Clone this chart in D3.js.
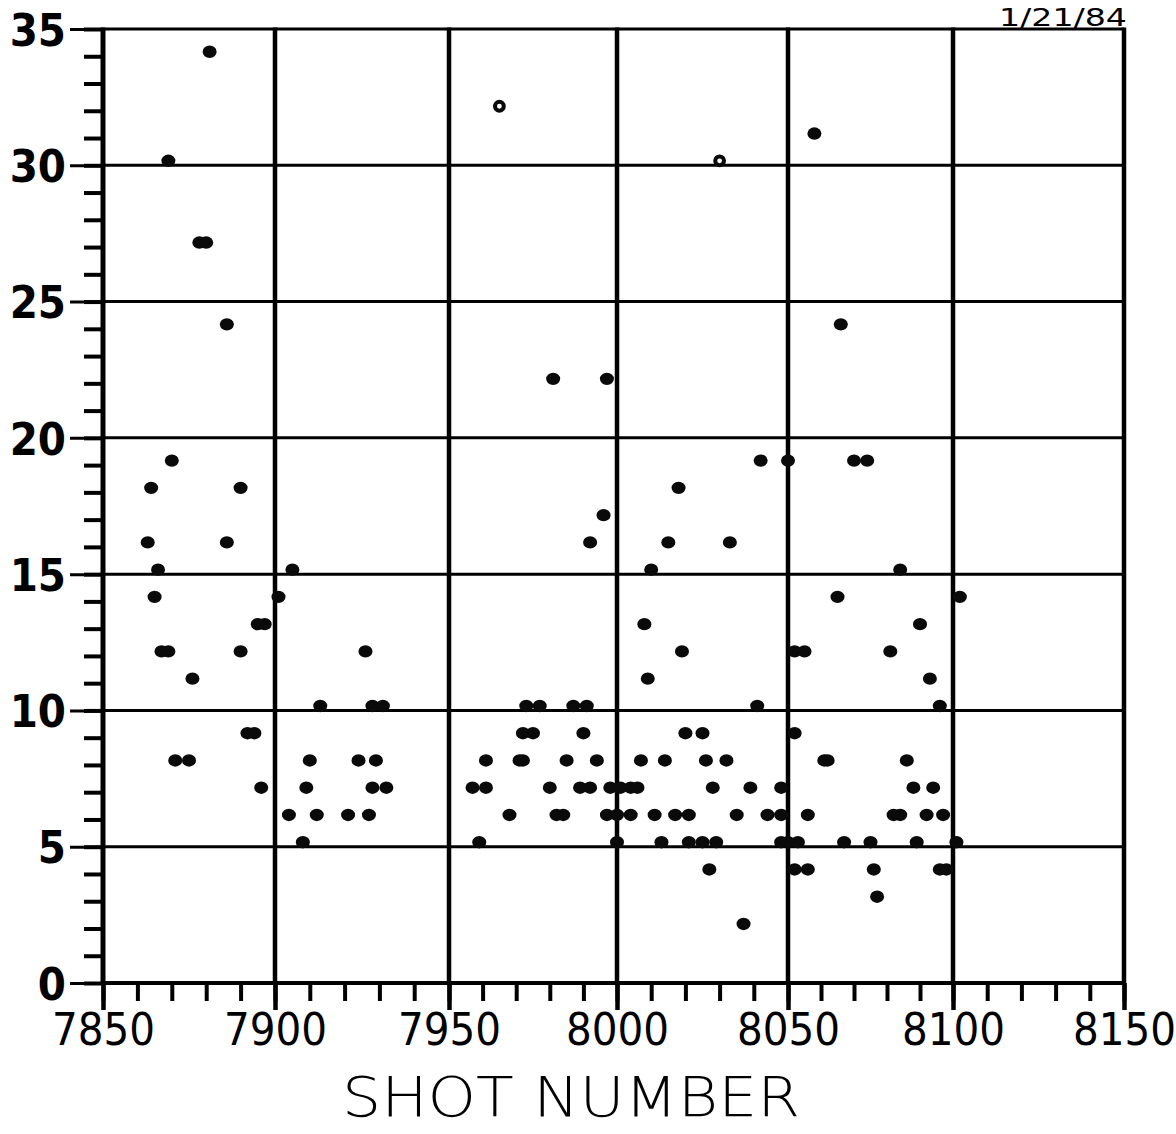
<!DOCTYPE html>
<html>
<head>
<meta charset="utf-8">
<script src="https://cdn.jsdelivr.net/npm/d3@7"></script>
<style>
  html, body { margin: 0; padding: 0; background: #ffffff; }
  svg { display: block; }
  .lettering { font-family: "DejaVu Sans Condensed", "DejaVu Sans", sans-serif; font-stretch: condensed; }
</style>
</head>
<body>
<svg id="chart" width="1176" height="1134"></svg>
<script>
// Axis tick labels
const xTickValues = [7850, 7900, 7950, 8000, 8050, 8100, 8150];
const yTickValues = [0, 5, 10, 15, 20, 25, 30, 35];

// Plotted readings, grouped by reading level (solid dots)
const readingLevels = [34, 31, 30, 27, 24, 22, 19, 18, 17, 16, 15, 14, 13, 12, 11, 10, 9, 8, 7, 6, 5, 4, 3, 2];
const shotsAtLevel = [
  [7881],
  [8058],
  [7869],
  [7878, 7880],
  [7886, 8066],
  [7981, 7997],
  [7870, 8042, 8050, 8070, 8074],
  [7864, 7890, 8018],
  [7996],
  [7863, 7886, 7992, 8015, 8033],
  [7866, 7905, 8010, 8084],
  [7865, 7901, 8065, 8102],
  [7895, 7897, 8008, 8090],
  [7867, 7869, 7890, 7926, 8019, 8052, 8055, 8081],
  [7876, 8009, 8093],
  [7913, 7928, 7931, 7973, 7977, 7987, 7991, 8041, 8096],
  [7892, 7894, 7972, 7975, 7990, 8020, 8025, 8052],
  [7871, 7875, 7910, 7924, 7929, 7961, 7971, 7972, 7985, 7994, 8007, 8014, 8026, 8032, 8061, 8062, 8086],
  [7896, 7909, 7928, 7932, 7957, 7961, 7980, 7989, 7992, 7998, 8001, 8004, 8006, 8028, 8039, 8048, 8088, 8094],
  [7904, 7912, 7921, 7927, 7968, 7982, 7984, 7997, 8000, 8004, 8011, 8017, 8021, 8035, 8044, 8048, 8056, 8082, 8084, 8092, 8097],
  [7908, 7959, 8000, 8013, 8021, 8025, 8029, 8048, 8050, 8053, 8067, 8075, 8089, 8101],
  [8027, 8052, 8056, 8076, 8096, 8098],
  [8077],
  [8037]
];

// Readings drawn as open rings
const openShots = [7965, 8030];
const openReadings = [32, 30];

const solidPoints = readingLevels.flatMap((level, i) => shotsAtLevel[i].map(s => ({ shot: s, value: level })));
const openPoints = openShots.map((s, i) => ({ shot: s, value: openReadings[i] }));

const svg = d3.select("#chart");

// Ruled sheet: the 50-shot columns are hand-spaced, so the scale follows each rule line
const x = d3.scaleLinear().domain(xTickValues).range([103, 275, 449, 617, 788, 953, 1124]);
const y = d3.scaleLinear().domain([0, 35]).range([983, 29]);

const xMin = xTickValues[0], xMax = xTickValues[xTickValues.length - 1];

// Horizontal rules
svg.append("g")
  .selectAll("line")
  .data(yTickValues.filter(v => v > 0))
  .join("line")
  .attr("x1", x(xMin)).attr("x2", x(xMax))
  .attr("y1", d => y(d)).attr("y2", d => y(d))
  .attr("stroke", "#000").attr("stroke-width", 3);

// Vertical rules
svg.append("g")
  .selectAll("line")
  .data(xTickValues.slice(1))
  .join("line")
  .attr("x1", d => x(d)).attr("x2", d => x(d))
  .attr("y1", y(35) - 1.5).attr("y2", y(0))
  .attr("stroke", "#000").attr("stroke-width", 4.5);

// Left axis and baseline
svg.append("line")
  .attr("x1", x(xMin)).attr("x2", x(xMin))
  .attr("y1", y(35) - 1.5).attr("y2", y(0) + 2)
  .attr("stroke", "#000").attr("stroke-width", 5);
svg.append("line")
  .attr("x1", x(xMin) - 2).attr("x2", x(xMax) + 2)
  .attr("y1", y(0)).attr("y2", y(0))
  .attr("stroke", "#000").attr("stroke-width", 4);

// Y ticks: one per unit, longer at every fifth
const yMinorAxis = d3.axisLeft(y).tickValues(d3.range(0, 36, 1)).tickSize(19).tickFormat("");
const yMajorAxis = d3.axisLeft(y).tickValues(yTickValues).tickSize(33).tickPadding(4);

const gyMinor = svg.append("g").attr("transform", `translate(${x(xMin)},0)`).call(yMinorAxis);
gyMinor.select(".domain").remove();
gyMinor.selectAll(".tick line").attr("stroke", "#000").attr("stroke-width", 4);

const gyMajor = svg.append("g").attr("transform", `translate(${x(xMin)},0)`).call(yMajorAxis);
gyMajor.select(".domain").remove();
gyMajor.selectAll(".tick line").attr("stroke", "#000").attr("stroke-width", 3);
gyMajor.selectAll(".tick text")
  .attr("class", "lettering")
  .attr("fill", "#000")
  .attr("dy", "0.36em")
  .style("font-size", "45px")
  .style("font-weight", "bold");

// X ticks: every ten shots, longer at every fifty
const xMinorAxis = d3.axisBottom(x).tickValues(d3.range(7850, 8151, 10)).tickSize(18).tickFormat("");
const xMajorAxis = d3.axisBottom(x).tickValues(xTickValues).tickSize(27).tickPadding(3).tickFormat(d3.format("d"));

const gxMinor = svg.append("g").attr("transform", `translate(0,${y(0)})`).call(xMinorAxis);
gxMinor.select(".domain").remove();
gxMinor.selectAll(".tick line").attr("stroke", "#000").attr("stroke-width", 4);

const gxMajor = svg.append("g").attr("transform", `translate(0,${y(0)})`).call(xMajorAxis);
gxMajor.select(".domain").remove();
gxMajor.selectAll(".tick line").attr("stroke", "#000").attr("stroke-width", 4.5);
gxMajor.selectAll(".tick text")
  .attr("class", "lettering")
  .attr("fill", "#000")
  .style("font-size", "45px");

// Solid dots sit just above their reading line, as plotted with the pen
const markLift = 4.5;
svg.append("g")
  .selectAll("ellipse")
  .data(solidPoints)
  .join("ellipse")
  .attr("cx", d => x(d.shot))
  .attr("cy", d => y(d.value) - markLift)
  .attr("rx", 7)
  .attr("ry", 6.2)
  .attr("fill", "#0a0a0a");

svg.append("g")
  .selectAll("circle")
  .data(openPoints)
  .join("circle")
  .attr("cx", d => x(d.shot))
  .attr("cy", d => y(d.value) - markLift)
  .attr("r", 4.4)
  .attr("fill", "#fff")
  .attr("stroke", "#0a0a0a")
  .attr("stroke-width", 4);

// Axis title
svg.append("text")
  .attr("x", 571)
  .attr("y", 1116)
  .attr("text-anchor", "middle")
  .attr("textLength", 458)
  .attr("lengthAdjust", "spacingAndGlyphs")
  .attr("fill", "#000")
  .style("font-family", '"DejaVu Sans", sans-serif')
  .style("font-weight", 200)
  .style("font-size", "56px")
  .text("SHOT NUMBER");

// Date of the run
svg.append("text")
  .attr("class", "lettering")
  .attr("x", 1127)
  .attr("y", 26)
  .attr("text-anchor", "end")
  .attr("textLength", 128)
  .attr("lengthAdjust", "spacingAndGlyphs")
  .attr("fill", "#000")
  .style("font-size", "25px")
  .text("1/21/84");
</script>
</body>
</html>
